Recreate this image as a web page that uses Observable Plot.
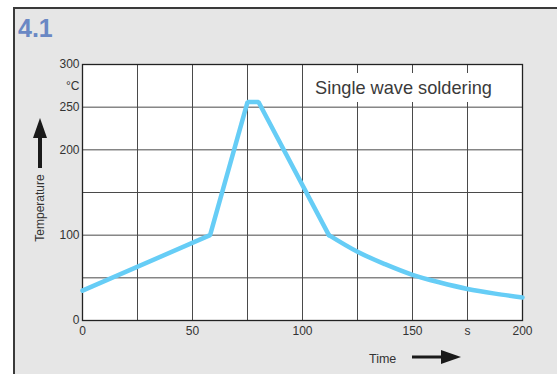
<!DOCTYPE html>
<html><head><meta charset="utf-8">
<script src="https://cdn.jsdelivr.net/npm/d3@7"></script>
<script src="https://cdn.jsdelivr.net/npm/@observablehq/plot@0.6"></script>
<style>
body{margin:0;width:557px;height:374px;overflow:hidden;background:#fff;font-family:"Liberation Sans",Arial,sans-serif;position:relative}
#panel{position:absolute;left:13px;top:7px;width:600px;height:400px;background:#e6e6e6;border-left:2px solid #3a3a3a;border-top:2px solid #3a3a3a;}
#chart{position:absolute;left:0;top:0}
#overlay{position:absolute;left:0;top:0}
</style></head><body>
<div id="panel"></div>
<div id="chart"></div>
<svg id="overlay" width="557" height="374" font-family="Liberation Sans, Arial, sans-serif">
  <text x="18" y="37" font-size="25" font-weight="bold" fill="#6a88c4">4.1</text>
  <rect x="305" y="73" width="212" height="29" fill="white"></rect>
  <text x="315" y="94" font-size="18.2" fill="#3a3a3a">Single wave soldering</text>
  <text transform="translate(44,208) rotate(-90)" text-anchor="middle" font-size="12" fill="#333">Temperature</text>
  <line x1="40" y1="168" x2="40" y2="134" stroke="#1a1a1a" stroke-width="4"></line>
  <polygon points="33,138 40,118 47,138" fill="#1a1a1a"></polygon>
  <text x="369" y="362.5" font-size="12.5" fill="#333">Time</text>
  <line x1="412" y1="357" x2="444" y2="357" stroke="#1a1a1a" stroke-width="3"></line>
  <polygon points="441,350 461,357 441,364" fill="#1a1a1a"></polygon>
</svg>
<script>
// Heating profile (time s, temperature °C)
const profileTime = [0, 58, 75, 80, 112];
const profileTemp = [35, 100, 256, 256, 100];
// Cooling curve
const coolTime = [112, 125, 137.5, 150, 162.5, 175, 187.5, 200];
const coolTemp = [100, 80.5, 66, 53.5, 44.5, 37, 31.5, 27];
// Grid and ticks
const xGrid = [25, 50, 75, 100, 125, 150, 175];
const yGrid = [50, 100, 150, 200, 250];
const xTicks = [0, 50, 100, 150, 175, 200];
const xTickLabels = ["0", "50", "100", "150", "s", "200"];
const yTicks = [0, 100, 200, 250, 275, 300];
const yTickLabels = ["0", "100", "200", "250", "°C", "300"];

const profile = profileTime.map((t, i) => ({t, T: profileTemp[i]}));
const cooling = coolTime.map((t, i) => ({t, T: coolTemp[i]}));
const lineColor = "#66cdf6";

const chart = Plot.plot({
  width: 557, height: 374,
  marginLeft: 82, marginRight: 35, marginTop: 64, marginBottom: 54,
  x: {domain: [0, 200]},
  y: {domain: [0, 300]},
  style: {background: "transparent", fontFamily: "Liberation Sans, Arial, sans-serif", fontSize: "12px", color: "#333", overflow: "visible"},
  marks: [
    Plot.frame({fill: "white"}),
    Plot.gridX({ticks: xGrid, stroke: "#4a4a4a", strokeOpacity: 1, strokeWidth: 1}),
    Plot.gridY({ticks: yGrid, stroke: "#4a4a4a", strokeOpacity: 1, strokeWidth: 1}),
    Plot.frame({stroke: "#222", strokeWidth: 1.3}),
    Plot.line(profile, {x: "t", y: "T", stroke: lineColor, strokeWidth: 4.5, strokeLinejoin: "miter"}),
    Plot.line(cooling, {x: "t", y: "T", stroke: lineColor, strokeWidth: 4.5, curve: "catmull-rom"}),
    Plot.axisX({ticks: xTicks, tickFormat: (d) => xTickLabels[xTicks.indexOf(d)], tickSize: 0, tickPadding: 6, label: null, fontSize: 12, fill: "#333"}),
    Plot.axisY({ticks: yTicks, tickFormat: (d) => yTickLabels[yTicks.indexOf(d)], tickSize: 0, tickPadding: 3, label: null, fontSize: 12, fill: "#333"})
  ]
});
document.getElementById("chart").appendChild(chart);
</script>
</body></html>
